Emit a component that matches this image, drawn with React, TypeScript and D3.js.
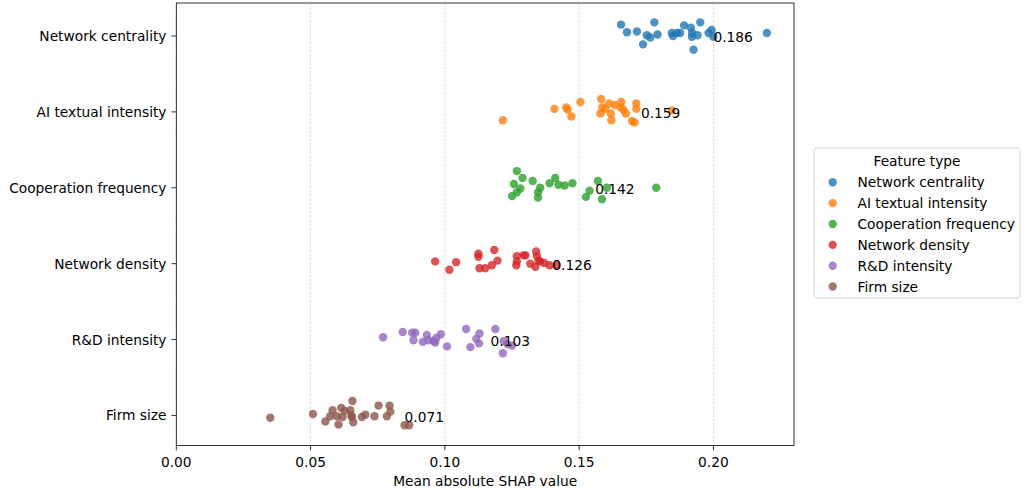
import React from "react";
import * as d3 from "d3";

const categories = [
  "Network centrality",
  "AI textual intensity",
  "Cooperation frequency",
  "Network density",
  "R&D intensity",
  "Firm size",
];
const colors = ["#1f77b4", "#ff7f0e", "#2ca02c", "#d62728", "#9467bd", "#8c564b"];
const meanValues = [0.186, 0.159, 0.142, 0.126, 0.103, 0.071];
const xTicks = [0, 0.05, 0.1, 0.15, 0.2];

const networkCentrality = [0.1656, 0.1678, 0.1715, 0.1738, 0.1752, 0.1765, 0.178, 0.1792, 0.1845, 0.1849, 0.1864, 0.1876, 0.1891, 0.1916, 0.1921, 0.192, 0.1941, 0.1951, 0.1926, 0.1982, 0.1993, 0.2, 0.2199];
const networkCentralityJitter = [-0.15, -0.05, -0.06, 0.11, -0.01, 0.02, -0.18, -0.02, -0.04, 0, -0.04, -0.04, -0.14, -0.11, -0.04, 0.01, -0.01, -0.18, 0.18, -0.04, -0.08, 0.01, -0.04];

const aiTextual = [0.1216, 0.1408, 0.1452, 0.1457, 0.1471, 0.1505, 0.1582, 0.1586, 0.1579, 0.1597, 0.1611, 0.1618, 0.162, 0.1634, 0.1657, 0.1654, 0.1665, 0.1674, 0.1697, 0.1706, 0.1713, 0.1713, 0.1845];
const aiTextualJitter = [0.11, -0.04, -0.06, -0.03, 0.06, -0.13, -0.17, -0.06, 0.02, -0.04, -0.11, 0.02, 0.11, -0.09, -0.13, -0.06, -0.03, 0.02, 0.12, 0.14, -0.11, -0.04, -0.02];

const cooperation = [0.1268, 0.1289, 0.1257, 0.1281, 0.1268, 0.125, 0.1327, 0.1355, 0.1347, 0.1347, 0.139, 0.1411, 0.1423, 0.1446, 0.1475, 0.1525, 0.1539, 0.157, 0.1603, 0.1585, 0.1787];
const cooperationJitter = [-0.22, -0.13, -0.05, 0.01, 0.06, 0.11, -0.09, 0, 0.06, 0.13, -0.06, -0.13, -0.04, -0.03, -0.06, 0.12, 0.04, -0.09, 0, 0.15, 0];

const networkDensity = [0.0964, 0.1017, 0.1042, 0.1125, 0.1125, 0.1129, 0.115, 0.1175, 0.1184, 0.1196, 0.1268, 0.1268, 0.1266, 0.1293, 0.13, 0.1318, 0.134, 0.1343, 0.1349, 0.1337, 0.1355, 0.137, 0.139, 0.1417];
const networkDensityJitter = [-0.03, 0.08, -0.02, -0.13, -0.09, 0.06, 0.06, 0.02, -0.18, -0.04, -0.1, -0.03, 0.02, -0.11, -0.11, 0, -0.16, -0.1, -0.04, 0.04, -0.03, -0.01, 0.02, 0.02];

const rdIntensity = [0.077, 0.0843, 0.0878, 0.089, 0.0883, 0.0918, 0.0933, 0.0939, 0.0958, 0.0968, 0.0985, 0.0964, 0.1008, 0.1079, 0.1129, 0.1117, 0.1127, 0.1095, 0.1188, 0.1219, 0.125, 0.1216, 0.1233];
const rdIntensityJitter = [-0.03, -0.1, -0.09, -0.09, 0.01, 0.03, -0.06, 0.01, 0.02, -0.02, -0.07, 0.04, 0.09, -0.14, -0.08, -0.01, 0.05, 0.1, -0.14, 0.02, 0.08, 0.18, 0.06];

const firmSize = [0.035, 0.0509, 0.0555, 0.0573, 0.0582, 0.0598, 0.0604, 0.0614, 0.0619, 0.0627, 0.0648, 0.0652, 0.0656, 0.0654, 0.0659, 0.0691, 0.0704, 0.0738, 0.0753, 0.0784, 0.0794, 0.0797, 0.085, 0.0867];
const firmSizeJitter = [0.03, -0.02, 0.08, 0.01, -0.07, 0.01, 0.12, -0.1, 0.02, -0.06, -0.07, 0, -0.19, 0.02, 0.09, 0.02, -0.01, 0.01, -0.13, 0.01, -0.13, -0.05, 0.13, 0.13];

const seriesValues = [networkCentrality, aiTextual, cooperation, networkDensity, rdIntensity, firmSize];
const seriesJitter = [networkCentralityJitter, aiTextualJitter, cooperationJitter, networkDensityJitter, rdIntensityJitter, firmSizeJitter];

const W = 1029;
const H = 495;
const left = 176.3;
const right = 794;
const top = 3;
const bottom = 445.5;
const FONT = "'DejaVu Sans', sans-serif";
const FS = 13.75;
const TICK = 4.9;

export default function App() {
  const x = d3.scaleLinear().domain([0, 0.23]).range([left, right]);
  const y = d3.scaleLinear().domain([-0.435, 5.396]).range([top, bottom]);
  const fmt = d3.format(".2f");
  const fmt3 = d3.format(".3f");

  const legendX = 814;
  const legendY = 148;
  const legendW = 206;
  const legendH = 150;
  const rowH = 20.85;

  return (
    <svg
      width={W}
      height={H}
      style={{ position: "absolute", left: 0, top: 0, background: "#fff" }}
      fontFamily={FONT}
    >
      <rect x={0} y={0} width={W} height={H} fill="#fff" />
      {/* grid */}
      {xTicks.map((t, i) => (
        <line
          key={"g" + i}
          x1={x(t)}
          x2={x(t)}
          y1={top}
          y2={bottom}
          stroke="#b0b0b0"
          strokeOpacity={0.5}
          strokeWidth={0.8}
          strokeDasharray="2.96,1.28"
        />
      ))}
      {/* points */}
      {seriesValues.map((vals, si) =>
        vals.map((v, pi) => (
          <circle
            key={si + "-" + pi}
            cx={x(v)}
            cy={y(si + seriesJitter[si][pi])}
            r={4.2}
            fill={colors[si]}
            fillOpacity={0.8}
          />
        ))
      )}
      {/* mean labels */}
      {meanValues.map((m, i) => (
        <text
          key={"m" + i}
          x={x(m + 0.014)}
          y={y(i) + 6.3}
          fontSize={FS}
          fill="#000"
        >
          {fmt3(m)}
        </text>
      ))}
      {/* frame */}
      <rect
        x={left}
        y={top}
        width={right - left}
        height={bottom - top}
        fill="none"
        stroke="#000"
        strokeWidth={0.8}
      />
      {/* x ticks */}
      {xTicks.map((t, i) => (
        <g key={"xt" + i}>
          <line x1={x(t)} x2={x(t)} y1={bottom} y2={bottom + TICK} stroke="#000" strokeWidth={0.8} />
          <text x={x(t)} y={466.5} fontSize={FS} textAnchor="middle" fill="#000">
            {fmt(t)}
          </text>
        </g>
      ))}
      {/* y ticks */}
      {categories.map((c, i) => (
        <g key={"yt" + i}>
          <line x1={left - TICK} x2={left} y1={y(i)} y2={y(i)} stroke="#000" strokeWidth={0.8} />
          <text x={left - 2 * TICK} y={y(i) + 5} fontSize={FS} textAnchor="end" fill="#000">
            {c}
          </text>
        </g>
      ))}
      <text x={(left + right) / 2} y={485.5} fontSize={FS} textAnchor="middle" fill="#000">
        Mean absolute SHAP value
      </text>
      {/* legend */}
      <rect
        x={legendX}
        y={legendY}
        width={legendW}
        height={legendH}
        rx={3}
        fill="#fff"
        fillOpacity={0.8}
        stroke="#cccccc"
        strokeWidth={0.8}
      />
      <text x={legendX + legendW / 2} y={165.5} fontSize={FS} textAnchor="middle" fill="#000">
        Feature type
      </text>
      {categories.map((c, i) => (
        <g key={"lg" + i}>
          <circle cx={832.7} cy={182.3 + i * rowH} r={4.2} fill={colors[i]} fillOpacity={0.8} />
          <text x={857.5} y={182.3 + i * rowH + 5} fontSize={FS} fill="#000">
            {c}
          </text>
        </g>
      ))}
    </svg>
  );
}
